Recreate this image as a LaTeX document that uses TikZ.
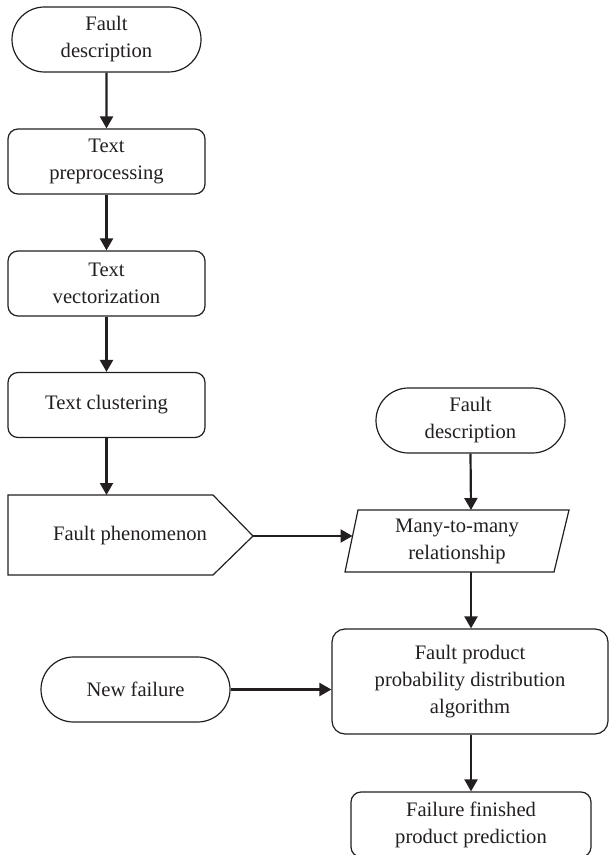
\documentclass[tikz,border=0pt]{standalone}
\usepackage{fontspec}
\setmainfont{Liberation Serif}
\usetikzlibrary{shapes.misc,arrows.meta}
\definecolor{inkgray}{HTML}{231F20}

\tikzset{
  box/.style={draw=inkgray, line width=0.6pt, fill=white, align=center, text=inkgray,
    font=\fontsize{10.3}{13.5}\selectfont, inner sep=2pt},
  term/.style={box, rounded rectangle, minimum width=98.5pt, minimum height=32.5pt},
  proc/.style={box, rectangle, rounded corners=5pt, minimum width=98.5pt, minimum height=32.5pt},
  label/.style={align=center, text=inkgray, font=\fontsize{10.3}{13.5}\selectfont},
  arr/.style={draw=inkgray, line width=1.1pt, -{Triangle[length=6pt,width=6.5pt]}},
}

\begin{document}
\begin{tikzpicture}[x=0.5pt,y=-0.5pt]
\useasboundingbox (0,0) rectangle (609,855);

% left column
\node[term] (desc1) at (106.5,39.5) {Fault\\description};
\node[proc] (prep) at (106.5,161.5) {Text\\preprocessing};
\node[proc] (vect) at (106.5,283.5) {Text\\vectorization};
\node[proc] (clus) at (106.5,405) {Text clustering};

% fault phenomenon (pentagon)
\draw[draw=inkgray, line width=0.6pt, fill=white] (8,495) -- (213,495) -- (253,536) -- (213,575) -- (8,575) -- cycle;
\node[label] (phen) at (130,536) {Fault phenomenon};
\coordinate (phtip) at (253,536);

% right column
\node[term] (desc2) at (470.5,420.5) {Fault\\description};
\draw[draw=inkgray, line width=0.6pt, fill=white] (358,510) -- (569,510) -- (554,572) -- (345,572) -- cycle;
\node[label] (many) at (457,541) {Many-to-many\\relationship};
\coordinate (mtop) at (471,510);
\coordinate (mbot) at (471,572);
\coordinate (mleft) at (352.5,536);

\node[proc, rounded corners=6.5pt, minimum width=138pt, minimum height=52.5pt] (prod) at (470,681.5)
  {Fault product\\probability distribution\\algorithm};
\node[term] (newf) at (135.5,689.5) {New failure};
\node[proc, minimum width=120pt] (fin) at (471,824.5) {Failure finished\\product prediction};

% connectors
\draw[arr] (desc1) -- (prep);
\draw[arr] (prep) -- (vect);
\draw[arr] (vect) -- (clus);
\draw[arr] (clus.south) -- (clus.south |- 0,495);
\draw[arr] (phtip) -- (mleft);
\draw[arr] (desc2.south) -- (mtop);
\draw[arr] (mbot) -- (mbot |- prod.north);
\draw[arr] (newf.east) -- (newf.east -| prod.west);
\draw[arr] (prod.south -| fin.north) -- (fin.north);
\end{tikzpicture}
\end{document}
